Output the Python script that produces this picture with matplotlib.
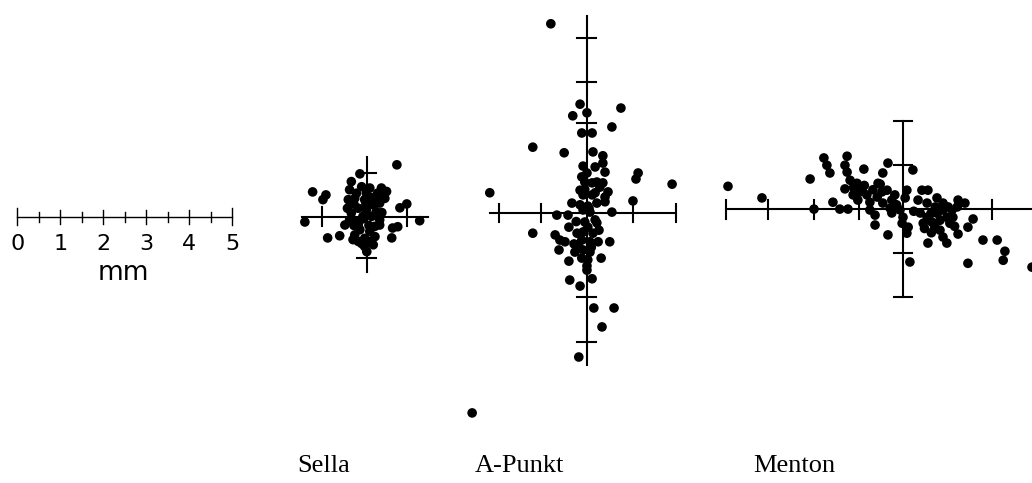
import numpy as np
import matplotlib
matplotlib.use("Agg")
import matplotlib.pyplot as plt

# sheet size in mm (figure is drawn 1:1 in mm, 43 px per mm)
SHEET_W = 24.0
SHEET_H = 11.233

# centre of each reference cross on the sheet (mm)
sella_center = (8.53, 6.19)
apunkt_center = (13.65, 6.28)
menton_center = (21.00, 6.37)

# deviations of the individual landmark positions from the cross centre (mm)
sella_dx = [0.70, -0.16, -1.26, -0.95, -1.02, -1.44, 1.23, 0.77, 0.93, -0.51,
            -0.91, -0.63, 0.58, 0.60, 0.72, 0.00, -0.36, -0.40, -0.43, -0.24,
            -0.12, 0.07, 0.34, 0.46, 0.42, 0.30, 0.15, -0.05, -0.20, -0.36,
            -0.40, -0.24, -0.09, 0.11, 0.22, 0.30, 0.19, 0.07, -0.16, -0.28,
            -0.32, -0.20, -0.05, 0.07, -0.05, 0.19, 0.30, -0.20, -0.01, -0.28,
            0.22, -0.01, -0.30, 0.10, 0.35, -0.10, 0.05, -0.30, 0.25, -0.45,
            0.15, -0.12, 0.38, -0.02]
sella_dy = [1.21, 1.00, 0.58, 0.51, 0.40, -0.12, -0.09, 0.21, 0.30, -0.19,
            -0.49, -0.44, -0.49, -0.26, -0.23, -0.81, 0.82, 0.63, 0.40, 0.55,
            0.70, 0.67, 0.67, 0.59, 0.43, 0.32, 0.28, 0.40, 0.20, 0.09,
            -0.07, -0.11, 0.01, 0.01, 0.12, -0.07, -0.22, -0.34, -0.30, -0.42,
            -0.53, -0.57, -0.50, -0.57, -0.69, -0.46, -0.19, -0.19, 0.16, 0.43,
            0.47, 0.55, 0.30, 0.45, 0.10, -0.05, -0.20, -0.20, 0.55, 0.20,
            -0.65, -0.62, 0.50, 0.30]

apunkt_dx = [-0.84, -0.16, 0.79, -0.33, 0.00, 0.58, -0.12, 0.12, -1.26, -0.53,
             0.14, 0.37, 0.37, 0.42, 0.19, -0.09, 0.00, -0.12, -0.05, 0.23,
             0.37, 0.12, 1.19, 1.14, 1.98, -2.26, -0.16, -0.09, 0.19, 0.49,
             0.42, 1.07, 0.12, -0.35, -0.16, 0.02, 0.23, 0.42, -0.09, 0.07,
             0.58, -0.70, -0.44, -0.05, 0.19, 0.23, 0.02, -1.26, -0.42, -0.74,
             -0.63, -0.51, -0.23, -0.09, 0.14, -0.12, 0.07, 0.26, 0.53, -0.65,
             -0.28, -0.09, 0.07, -0.12, 0.02, 0.33, -0.42, 0.00, 0.00, -0.40,
             0.12, -0.16, 0.16, 0.63, 0.35, -0.19, -2.67, -0.05, 0.30, -0.25,
             0.10, -0.20, 0.05, 0.28, -0.30]
apunkt_dy = [4.40, 2.53, 2.44, 2.26, 2.33, 2.00, 1.86, 1.86, 1.53, 1.40,
             1.42, 1.33, 1.16, 0.95, 1.07, 1.09, 0.93, 0.84, 0.72, 0.72,
             0.70, 0.70, 0.93, 0.79, 0.67, 0.47, 0.53, 0.42, 0.47, 0.49,
             0.37, 0.28, 0.42, 0.23, 0.19, 0.16, 0.23, 0.26, 0.07, 0.02,
             0.02, -0.05, -0.05, -0.21, -0.16, -0.23, -0.33, -0.47, -0.33, -0.51,
             -0.63, -0.67, -0.47, -0.44, -0.47, -0.63, -0.67, -0.67, -0.67, -0.86,
             -0.91, -0.86, -0.91, -1.05, -1.09, -1.05, -1.12, -1.23, -1.33, -1.56,
             -1.53, -1.70, -2.21, -2.21, -2.65, -3.35, -4.65, 0.55, 0.60, -0.20,
             -0.80, -0.75, 0.10, -0.40, -0.72]

menton_dx = [-4.07, -3.28, -2.07, -2.16, -1.84, -1.77, -1.70, -1.30, -1.35, -1.30,
             -0.91, -0.35, 0.23, -0.47, -1.63, -1.47, -1.28, -1.35, -1.23, -1.07,
             -0.95, -0.84, -1.16, -1.05, -0.77, -0.60, -0.49, -0.37, -0.58, -0.47,
             -0.26, -0.19, -0.77, -0.65, -0.53, -0.65, -0.35, -0.26, -0.30, 0.09,
             0.05, -0.07, 0.00, -0.02, 0.12, 0.09, 0.16, 0.44, 0.58, 0.35,
             0.56, 0.79, 0.93, 0.40, 0.56, 0.67, 0.47, 0.74, 0.86, 1.02,
             0.93, 1.14, 1.26, 1.28, 1.44, 1.16, 1.09, 0.86, 0.93, 0.58,
             1.02, 1.28, 1.51, 1.63, 1.86, 2.19, 2.37, 1.51, 2.33, 3.00,
             0.65, 0.80, 0.75, 1.05, 0.50, 0.66, 1.20, -1.15, -0.90, -0.70,
             -1.00, -0.15, 0.25]
menton_dy = [0.53, 0.26, 0.00, 0.70, 1.19, 1.02, 0.84, 1.23, 1.02, 0.86,
             0.93, 1.07, 0.91, 0.84, 0.16, 0.00, 0.00, 0.47, 0.67, 0.60,
             0.44, 0.33, 0.33, 0.21, 0.16, 0.28, 0.40, 0.44, 0.60, 0.14,
             0.21, 0.33, -0.02, -0.14, 0.58, -0.37, -0.60, -0.09, 0.02, 0.44,
             0.26, -0.02, -0.19, -0.33, -0.42, -0.56, -1.23, 0.44, 0.44, 0.21,
             0.14, 0.26, 0.14, -0.09, -0.19, -0.30, -0.33, -0.42, -0.26, -0.19,
             -0.02, -0.02, 0.05, 0.21, 0.14, -0.19, -0.33, -0.49, -0.65, -0.79,
             -0.79, -0.58, -0.42, -0.23, -0.72, -0.72, -0.98, -1.26, -1.19, -1.35,
             -0.10, -0.10, 0.05, 0.05, -0.45, -0.55, -0.40, 0.50, 0.55, 0.45,
             0.40, 0.10, -0.05]

# reference crosses: arm extents and tick marks (mm from centre)
sella_harm, sella_varm = (-1.51, 1.42), (-1.28, 1.40)
sella_hticks, sella_vticks = [-1.05, 0.93], [1.02, -0.95]

apunkt_harm, apunkt_varm = (-2.26, 2.07), (-3.53, 4.58)
apunkt_hticks = [-2.05, -1.07, 1.07, 2.07]
apunkt_vticks = [4.07, 3.05, 2.09, -1.95, -3.00]

menton_harm, menton_varm = (-4.12, 3.30), (-2.05, 2.05)
menton_hticks = [-4.12, -3.14, -2.07, -1.02, 2.07]
menton_vticks = [2.05, 1.02, -1.02, -2.05]

# scale bar
bar_origin = (0.40, 6.19)
bar_ticks = np.arange(0, 5.01, 0.5)
bar_labels = ["0", "1", "2", "3", "4", "5"]

names = ["Sella", "A-Punkt", "Menton"]
name_x = [7.53, 12.09, 18.47]

LW = 1.5


def draw_cross(ax, center, harm, varm, hticks, vticks, half=0.22):
    cx, cy = center
    ax.plot([cx + harm[0], cx + harm[1]], [cy, cy], color="black", lw=LW)
    ax.plot([cx, cx], [cy + varm[0], cy + varm[1]], color="black", lw=LW)
    for t in hticks:
        ax.plot([cx + t, cx + t], [cy - half, cy + half], color="black", lw=LW)
    for t in vticks:
        ax.plot([cx - half, cx + half], [cy + t, cy + t], color="black", lw=LW)


fig = plt.figure(figsize=(10.32, 4.83), dpi=100)
ax = fig.add_axes([0, 0, 1, 1])
ax.set_xlim(0, SHEET_W)
ax.set_ylim(0, SHEET_H)
ax.axis("off")

# scale bar 0-5 mm
bx, by = bar_origin
ax.plot([bx, bx + 5], [by, by], color="black", lw=1.0)
for t in bar_ticks:
    if t in (0, 5):
        h = 0.2
    elif t == int(t):
        h = 0.16
    else:
        h = 0.12
    ax.plot([bx + t, bx + t], [by - h, by + h], color="black", lw=1.0)
for i, lab in enumerate(bar_labels):
    ax.text(bx + i, by - 0.64, lab, ha="center", va="center", fontsize=16,
            family="DejaVu Sans")
ax.text(bx + 2.47, by - 1.30, "mm", ha="center", va="center", fontsize=19,
        family="DejaVu Sans")

draw_cross(ax, sella_center, sella_harm, sella_varm, sella_hticks, sella_vticks)
draw_cross(ax, apunkt_center, apunkt_harm, apunkt_varm, apunkt_hticks, apunkt_vticks)
draw_cross(ax, menton_center, menton_harm, menton_varm, menton_hticks, menton_vticks)

for center, dx, dy in [(sella_center, sella_dx, sella_dy),
                       (apunkt_center, apunkt_dx, apunkt_dy),
                       (menton_center, menton_dx, menton_dy)]:
    ax.scatter(center[0] + np.array(dx), center[1] + np.array(dy),
               s=48, color="black", edgecolors="none", zorder=3)

for x, name in zip(name_x, names):
    ax.text(x, 0.26, name, ha="center", va="baseline", fontsize=19,
            family="Liberation Serif")

fig.savefig("out.png", dpi=100)
